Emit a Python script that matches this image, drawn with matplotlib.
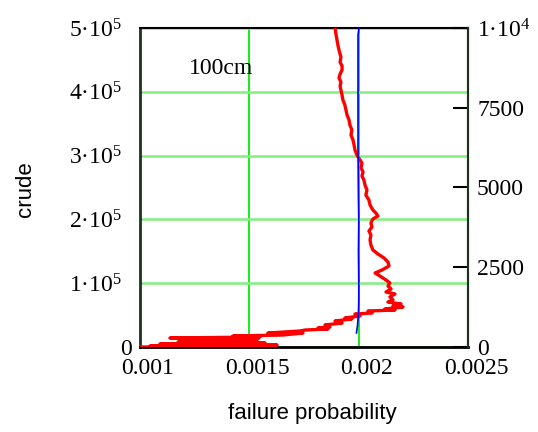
import matplotlib
matplotlib.use("Agg")
import matplotlib.pyplot as plt
import matplotlib.transforms as mtrans

# red trace: running failure probability vs crude sample count (left axis)
red_crude = [0, 800, 1600, 3100, 4700, 6300, 7800, 9400, 11000, 12500,
             14100, 15700, 17200, 18800, 21900, 21900, 25100, 26600, 28200, 29800,
             31300, 34500, 37600, 40800, 43900, 45500, 48600, 51700, 53300, 56400,
             58000, 59600, 62700, 64300, 67400, 70500, 73700, 78400, 83100, 86200,
             90900, 95600, 100300, 105000, 111300, 116000, 120700, 127000, 133200, 139500,
             145800, 152000, 159900, 167700, 175500, 181800, 188100, 194400, 200600, 205300,
             210000, 214700, 222600, 230400, 238200, 246100, 253900, 261800, 268000, 274300,
             280600, 288400, 293100, 300900, 308800, 316600, 324500, 332300, 340100, 348000,
             355800, 363600, 371500, 379300, 387200, 395000, 402800, 409100, 415400, 421600,
             427900, 434200, 440400, 446700, 454500, 459200, 465500, 473400, 481200, 490600,
             500000]
red_prob = [0.001000, 0.001457, 0.001046, 0.001627, 0.001091, 0.001572, 0.001174, 0.001503, 0.001297, 0.001540,
            0.001137, 0.001549, 0.001425, 0.001654, 0.001745, 0.001585, 0.001732, 0.001755, 0.001860, 0.001814,
            0.001869, 0.001846, 0.001924, 0.001892, 0.001969, 0.001937, 0.002006, 0.001983, 0.002061, 0.002043,
            0.002166, 0.002120, 0.002203, 0.002157, 0.002194, 0.002134, 0.002157, 0.002143, 0.002166, 0.002125,
            0.002148, 0.002134, 0.002143, 0.002125, 0.002097, 0.002075, 0.002107, 0.002139, 0.002134, 0.002116,
            0.002088, 0.002065, 0.002056, 0.002052, 0.002056, 0.002047, 0.002061, 0.002056, 0.002065, 0.002088,
            0.002079, 0.002065, 0.002052, 0.002047, 0.002033, 0.002038, 0.002029, 0.002024, 0.002015, 0.002020,
            0.002011, 0.002015, 0.002006, 0.001992, 0.001983, 0.001979, 0.001974, 0.001965, 0.001969, 0.001960,
            0.001956, 0.001947, 0.001942, 0.001937, 0.001928, 0.001924, 0.001919, 0.001915, 0.001919, 0.001910,
            0.001915, 0.001924, 0.001924, 0.001915, 0.001919, 0.001915, 0.001910, 0.001905, 0.001901, 0.001896,
            0.001892]

# blue trace (right axis, 0..1e4)
blue_n = [440, 690, 1070, 1470, 2010, 3040, 3980, 4610, 6180, 7740, 9000, 9780, 10000]
blue_prob = [0.001990, 0.001995, 0.001999, 0.0020005, 0.0020005, 0.001999, 0.0020005,
             0.001999, 0.001997, 0.001997, 0.001997, 0.001997, 0.0020015]

x_ticks = [0.001, 0.0015, 0.002, 0.0025]
x_labels = ["0.001", "0.0015", "0.002", "0.0025"]
y_ticks = [0, 100000, 200000, 300000, 400000, 500000]
y_labels = ["0", "1·$10^{5}$", "2·$10^{5}$", "3·$10^{5}$", "4·$10^{5}$", "5·$10^{5}$"]
r_ticks = [0, 2500, 5000, 7500, 10000]
r_labels = ["0", "2500", "5000", "7500", "1·$10^{4}$"]

plt.rcParams["mathtext.fontset"] = "custom"
plt.rcParams["mathtext.rm"] = "Liberation Serif"
plt.rcParams["mathtext.it"] = "Liberation Serif:italic"

serif = "Liberation Serif"
fs = 17

fig = plt.figure(figsize=(5.38, 4.32), dpi=100)
ax = fig.add_axes([140/538, 1 - 347/432, 328/538, 319/432])

ax.plot(red_prob, red_crude, color="#ff0000", lw=2.4, zorder=3)
ax.set_xlim(0.001, 0.0025)
ax.set_ylim(0, 500000)

ax.set_xticks(x_ticks)
ax.set_xticklabels(x_labels, fontsize=fs, family=serif)
ax.set_yticks(y_ticks)
ax.set_yticklabels(y_labels, fontsize=fs, family=serif)
ax.tick_params(axis="x", length=0, pad=8)
ax.tick_params(axis="y", length=0, pad=13)

ax.xaxis.grid(True, color="#00ee00", lw=1.3)
ax.yaxis.grid(True, color="#80f080", lw=1.8)
ax.set_axisbelow(True)

for lbl in ax.get_xticklabels():
    lbl.set_transform(lbl.get_transform() + mtrans.ScaledTranslation(8/100, 0, fig.dpi_scale_trans))
ylab0 = ax.get_yticklabels()[0]
ylab0.set_transform(ylab0.get_transform() + mtrans.ScaledTranslation(10/100, 0, fig.dpi_scale_trans))

ax.spines["left"].set_color("#1a331a")
ax.spines["left"].set_linewidth(2)
ax.spines["right"].set_color("#1a331a")
ax.spines["right"].set_linewidth(1.5)
ax.spines["bottom"].set_color("black")
ax.spines["bottom"].set_linewidth(2)
ax.spines["top"].set_color("black")
ax.spines["top"].set_linewidth(1.5)

ax2 = ax.twinx()
ax2.plot(blue_prob, blue_n, color="#0000ff", lw=1.2)
ax2.set_ylim(0, 10000)
ax2.set_yticks(r_ticks)
ax2.set_yticklabels(r_labels, fontsize=fs, family=serif)
ax2.tick_params(axis="y", direction="in", length=11, width=1.5, pad=6.5, color="black")
for s in ["left", "top", "bottom"]:
    ax2.spines[s].set_visible(False)
ax2.spines["right"].set_color("#1a331a")
ax2.spines["right"].set_linewidth(1.5)

ax.text(0.001224, 437300, "100cm", fontsize=fs, family=serif, ha="left", va="center")

fig.text(25/538, 1 - 189.5/432, "crude", rotation=90, fontsize=16,
         family="Liberation Sans", ha="center", va="center")
fig.text(312/538, 1 - 414/432, "failure probability", fontsize=16,
         family="Liberation Sans", ha="center", va="center")

fig.savefig("out.png", dpi=100)
